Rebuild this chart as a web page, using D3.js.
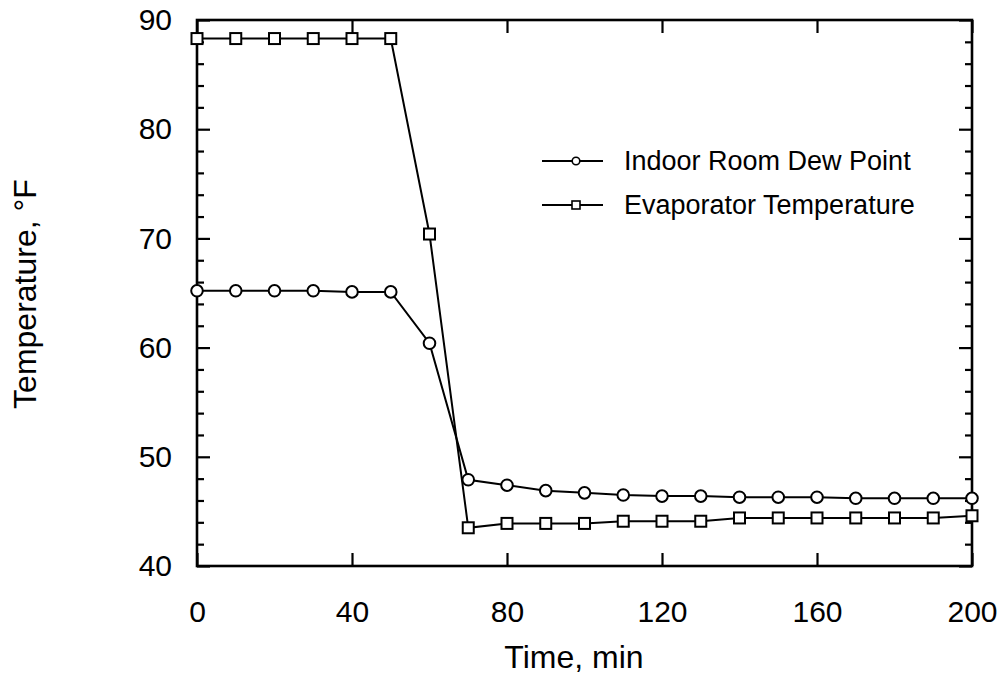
<!DOCTYPE html>
<html>
<head>
<meta charset="utf-8">
<script src="https://cdn.jsdelivr.net/npm/d3@7"></script>
<style>
  html, body { margin: 0; padding: 0; background: #fff; }
  svg { display: block; }
  text { font-family: "Liberation Sans", Arial, Helvetica, sans-serif; fill: #000; }
</style>
</head>
<body>
<svg id="chart" width="1008" height="687"></svg>
<script>
// Time points, minutes
const times = [0, 10, 20, 30, 40, 50, 60, 70, 80, 90, 100, 110, 120, 130, 140, 150, 160, 170, 180, 190, 200];
// Indoor room dew point, °F
const dewPoint = [65.2, 65.2, 65.2, 65.2, 65.1, 65.1, 60.4, 47.9, 47.4, 46.9, 46.7, 46.5, 46.4, 46.4, 46.3, 46.3, 46.3, 46.2, 46.2, 46.2, 46.2];
// Evaporator temperature, °F
const evapTemp = [88.3, 88.3, 88.3, 88.3, 88.3, 88.3, 70.4, 43.5, 43.9, 43.9, 43.9, 44.1, 44.1, 44.1, 44.4, 44.4, 44.4, 44.4, 44.4, 44.4, 44.6];

const xTicks = [0, 40, 80, 120, 160, 200];
const yTicks = [40, 50, 60, 70, 80, 90];
const yMinorTicks = d3.range(40, 90.01, 2);

const seriesNames = ["Indoor Room Dew Point", "Evaporator Temperature"];

const svg = d3.select("#chart");
const plotL = 197, plotR = 972, plotT = 20, plotB = 566;

const x = d3.scaleLinear().domain([0, 200]).range([plotL, plotR]);
const y = d3.scaleLinear().domain([40, 90]).range([plotB, plotT]);

const majorLen = 13, minorLen = 7;

function drawAxis(axis, transform) {
  const g = svg.append("g").attr("transform", transform).call(axis);
  g.select(".domain").remove();
  g.selectAll("line").attr("stroke", "#000").attr("stroke-width", 2.2);
  return g;
}

const minorOnly = yMinorTicks.filter(v => v % 10 !== 0);

// bottom axis with labels, ticks pointing inward
const bx = drawAxis(d3.axisBottom(x).tickValues(xTicks).tickSize(-majorLen).tickPadding(35)
  .tickFormat(d3.format("d")), `translate(0,${plotB})`);
bx.selectAll("text").attr("font-size", 30);
// top axis, ticks only
drawAxis(d3.axisTop(x).tickValues(xTicks).tickSize(-majorLen).tickFormat(""), `translate(0,${plotT})`);
// left axis major + minor
const ly = drawAxis(d3.axisLeft(y).tickValues(yTicks).tickSize(-majorLen).tickPadding(25)
  .tickFormat(d3.format("d")), `translate(${plotL},0)`);
ly.selectAll("text").attr("font-size", 30);
drawAxis(d3.axisLeft(y).tickValues(minorOnly).tickSize(-minorLen).tickFormat(""), `translate(${plotL},0)`);
// right axis major + minor
drawAxis(d3.axisRight(y).tickValues(yTicks).tickSize(-majorLen).tickFormat(""), `translate(${plotR},0)`);
drawAxis(d3.axisRight(y).tickValues(minorOnly).tickSize(-minorLen).tickFormat(""), `translate(${plotR},0)`);

// Plot frame
svg.append("rect")
  .attr("x", plotL).attr("y", plotT)
  .attr("width", plotR - plotL).attr("height", plotB - plotT)
  .attr("fill", "none").attr("stroke", "#000").attr("stroke-width", 2.6);

// Series lines
const line = d3.line().x((d, i) => x(times[i])).y(d => y(d));

svg.append("path").datum(dewPoint).attr("d", line)
  .attr("fill", "none").attr("stroke", "#000").attr("stroke-width", 2);
svg.append("path").datum(evapTemp).attr("d", line)
  .attr("fill", "none").attr("stroke", "#000").attr("stroke-width", 2);

// Markers
const circR = 5.8, sq = 11;
svg.append("g").selectAll("circle").data(dewPoint).join("circle")
  .attr("cx", (d, i) => x(times[i])).attr("cy", d => y(d)).attr("r", circR)
  .attr("fill", "#fff").attr("stroke", "#000").attr("stroke-width", 2);
svg.append("g").selectAll("rect").data(evapTemp).join("rect")
  .attr("x", (d, i) => x(times[i]) - sq / 2).attr("y", d => y(d) - sq / 2)
  .attr("width", sq).attr("height", sq)
  .attr("fill", "#fff").attr("stroke", "#000").attr("stroke-width", 2);

// Legend
const legend = svg.append("g");
const legY = [161, 205];
seriesNames.forEach((name, i) => {
  const g = legend.append("g").attr("transform", `translate(0,${legY[i]})`);
  g.append("line").attr("x1", 542).attr("x2", 603).attr("y1", 0).attr("y2", 0)
    .attr("stroke", "#000").attr("stroke-width", 1.8);
  if (i === 0) {
    g.append("circle").attr("cx", 576).attr("cy", 0).attr("r", 3.8)
      .attr("fill", "#fff").attr("stroke", "#000").attr("stroke-width", 1.6);
  } else {
    g.append("rect").attr("x", 572).attr("y", -4).attr("width", 8).attr("height", 8)
      .attr("fill", "#fff").attr("stroke", "#000").attr("stroke-width", 1.6);
  }
  g.append("text").attr("x", 624).attr("y", 9).attr("font-size", 27).text(name);
});

// Axis titles
svg.append("text").attr("x", 574).attr("y", 668)
  .attr("text-anchor", "middle").attr("font-size", 32).text("Time, min");
svg.append("text")
  .attr("transform", `translate(36,294) rotate(-90)`)
  .attr("text-anchor", "middle").attr("font-size", 32).text("Temperature, °F");
</script>
</body>
</html>
